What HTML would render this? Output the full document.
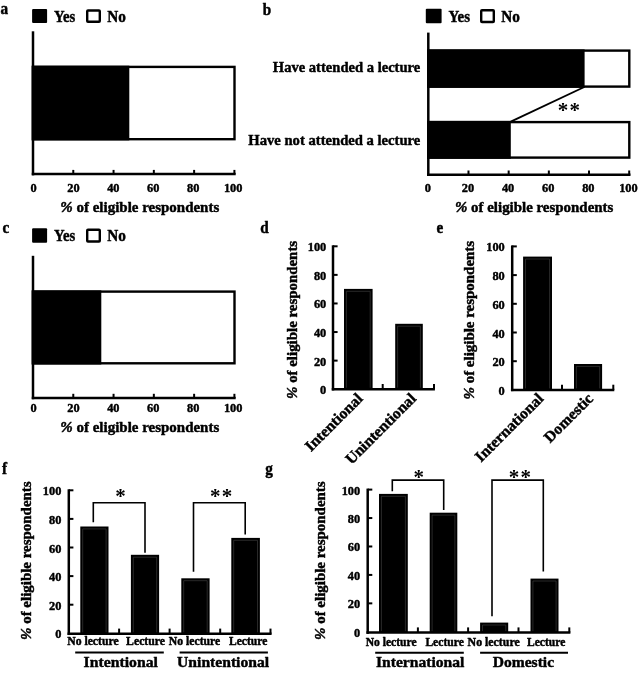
<!DOCTYPE html>
<html><head><meta charset="utf-8"><title>Figure</title>
<style>
html,body{margin:0;padding:0;background:#fff;}
svg{display:block;filter:blur(0.3px);}
text{font-family:"Liberation Serif",serif;font-weight:bold;fill:#000;stroke:#000;stroke-width:0.45px;stroke-linejoin:round;}
text.st{stroke:none;}
</style></head><body>
<svg width="638" height="673" viewBox="0 0 638 673">
<rect x="0" y="0" width="638" height="673" fill="#fff"/>
<text x="0.5" y="14.3" font-size="16" text-anchor="start" textLength="7.6" lengthAdjust="spacingAndGlyphs">a</text>
<rect x="32.1" y="9" width="15" height="14.1" rx="1" fill="#000"/>
<text x="53.9" y="21.6" font-size="16.5" textLength="21.29" lengthAdjust="spacingAndGlyphs">Yes</text>
<rect x="87.2" y="10.5" width="12.6" height="11.3" rx="0.8" fill="#fff" stroke="#000" stroke-width="2.4"/>
<text x="107.3" y="21.6" font-size="16.5" textLength="18.63" lengthAdjust="spacingAndGlyphs">No</text>
<line x1="33" y1="31.3" x2="33" y2="175.35" stroke="#000" stroke-width="2.5" stroke-linecap="butt"/>
<line x1="31.75" y1="174.1" x2="235.7" y2="174.1" stroke="#000" stroke-width="2.5" stroke-linecap="butt"/>
<text x="33.5" y="191.8" font-size="13.5" text-anchor="middle" textLength="6.18" lengthAdjust="spacingAndGlyphs">0</text>
<line x1="73.28" y1="174.1" x2="73.28" y2="169.9" stroke="#000" stroke-width="2" stroke-linecap="butt"/>
<text x="73.43" y="191.8" font-size="13.5" text-anchor="middle" textLength="12.35" lengthAdjust="spacingAndGlyphs">20</text>
<line x1="113.56" y1="174.1" x2="113.56" y2="169.9" stroke="#000" stroke-width="2" stroke-linecap="butt"/>
<text x="113.36" y="191.8" font-size="13.5" text-anchor="middle" textLength="12.35" lengthAdjust="spacingAndGlyphs">40</text>
<line x1="153.84" y1="174.1" x2="153.84" y2="169.9" stroke="#000" stroke-width="2" stroke-linecap="butt"/>
<text x="153.29" y="191.8" font-size="13.5" text-anchor="middle" textLength="12.35" lengthAdjust="spacingAndGlyphs">60</text>
<line x1="194.12" y1="174.1" x2="194.12" y2="169.9" stroke="#000" stroke-width="2" stroke-linecap="butt"/>
<text x="193.22" y="191.8" font-size="13.5" text-anchor="middle" textLength="12.35" lengthAdjust="spacingAndGlyphs">80</text>
<line x1="234.4" y1="174.1" x2="234.4" y2="169.9" stroke="#000" stroke-width="2" stroke-linecap="butt"/>
<text x="233.15" y="191.8" font-size="13.5" text-anchor="middle" textLength="18.53" lengthAdjust="spacingAndGlyphs">100</text>
<text x="60.3" y="212" font-size="15.5" textLength="158.96" lengthAdjust="spacingAndGlyphs"><tspan font-style="italic">%</tspan> of eligible respondents</text>
<rect x="32.95" y="66.9" width="201.55" height="72.3" fill="#fff" stroke="#000" stroke-width="2.4"/>
<rect x="31.75" y="65.7" width="97.55" height="74.7" fill="#000"/>
<text x="262.8" y="14.5" font-size="16" text-anchor="start" textLength="8.45" lengthAdjust="spacingAndGlyphs">b</text>
<rect x="425.8" y="8.8" width="15.8" height="14.5" rx="1" fill="#000"/>
<text x="448.4" y="21.8" font-size="16.5" textLength="21.59" lengthAdjust="spacingAndGlyphs">Yes</text>
<rect x="481.2" y="10.3" width="12.6" height="11.7" rx="0.8" fill="#fff" stroke="#000" stroke-width="2.4"/>
<text x="501.3" y="21.8" font-size="16.5" textLength="18.63" lengthAdjust="spacingAndGlyphs">No</text>
<line x1="428.3" y1="32.6" x2="428.3" y2="175.95" stroke="#000" stroke-width="2.5" stroke-linecap="butt"/>
<line x1="427.05" y1="174.7" x2="630.5" y2="174.7" stroke="#000" stroke-width="2.5" stroke-linecap="butt"/>
<text x="427.9" y="191.9" font-size="13.5" text-anchor="middle" textLength="6.18" lengthAdjust="spacingAndGlyphs">0</text>
<line x1="468.48" y1="174.7" x2="468.48" y2="170.5" stroke="#000" stroke-width="2" stroke-linecap="butt"/>
<text x="468" y="191.9" font-size="13.5" text-anchor="middle" textLength="12.35" lengthAdjust="spacingAndGlyphs">20</text>
<line x1="508.66" y1="174.7" x2="508.66" y2="170.5" stroke="#000" stroke-width="2" stroke-linecap="butt"/>
<text x="508.1" y="191.9" font-size="13.5" text-anchor="middle" textLength="12.35" lengthAdjust="spacingAndGlyphs">40</text>
<line x1="548.84" y1="174.7" x2="548.84" y2="170.5" stroke="#000" stroke-width="2" stroke-linecap="butt"/>
<text x="548.2" y="191.9" font-size="13.5" text-anchor="middle" textLength="12.35" lengthAdjust="spacingAndGlyphs">60</text>
<line x1="589.02" y1="174.7" x2="589.02" y2="170.5" stroke="#000" stroke-width="2" stroke-linecap="butt"/>
<text x="588.3" y="191.9" font-size="13.5" text-anchor="middle" textLength="12.35" lengthAdjust="spacingAndGlyphs">80</text>
<line x1="629.2" y1="174.7" x2="629.2" y2="170.5" stroke="#000" stroke-width="2" stroke-linecap="butt"/>
<text x="628.4" y="191.9" font-size="13.5" text-anchor="middle" textLength="18.53" lengthAdjust="spacingAndGlyphs">100</text>
<text x="454.9" y="212.3" font-size="15.5" textLength="158.46" lengthAdjust="spacingAndGlyphs"><tspan font-style="italic">%</tspan> of eligible respondents</text>
<rect x="428.25" y="50.6" width="201.05" height="36" fill="#fff" stroke="#000" stroke-width="2.4"/>
<rect x="427.05" y="49.4" width="157.55" height="38.4" fill="#000"/>
<rect x="428.25" y="122.1" width="201.05" height="35.5" fill="#fff" stroke="#000" stroke-width="2.4"/>
<rect x="427.05" y="120.9" width="83.75" height="37.9" fill="#000"/>
<line x1="584.3" y1="87" x2="510.8" y2="121.6" stroke="#000" stroke-width="1.9" stroke-linecap="butt"/>
<text x="557.7" y="117.3" font-size="21" text-anchor="start" letter-spacing="1.2" class="st">**</text>
<text x="272.8" y="72.2" font-size="15.5" textLength="147.47" lengthAdjust="spacingAndGlyphs">Have attended a lecture</text>
<text x="248.3" y="144.7" font-size="15.5" textLength="172.04" lengthAdjust="spacingAndGlyphs">Have not attended a lecture</text>
<text x="2.5" y="233" font-size="16" text-anchor="start" textLength="6.75" lengthAdjust="spacingAndGlyphs">c</text>
<rect x="32.1" y="228.3" width="15" height="14.5" rx="1" fill="#000"/>
<text x="53.9" y="241" font-size="16.5" textLength="21.29" lengthAdjust="spacingAndGlyphs">Yes</text>
<rect x="87.2" y="229.8" width="12.6" height="11.7" rx="0.8" fill="#fff" stroke="#000" stroke-width="2.4"/>
<text x="107.3" y="241" font-size="16.5" textLength="18.63" lengthAdjust="spacingAndGlyphs">No</text>
<line x1="33" y1="255.8" x2="33" y2="399.25" stroke="#000" stroke-width="2.5" stroke-linecap="butt"/>
<line x1="31.75" y1="398" x2="235.7" y2="398" stroke="#000" stroke-width="2.5" stroke-linecap="butt"/>
<text x="33.5" y="412.4" font-size="13.5" text-anchor="middle" textLength="6.18" lengthAdjust="spacingAndGlyphs">0</text>
<line x1="73.28" y1="398" x2="73.28" y2="393.8" stroke="#000" stroke-width="2" stroke-linecap="butt"/>
<text x="73.43" y="412.4" font-size="13.5" text-anchor="middle" textLength="12.35" lengthAdjust="spacingAndGlyphs">20</text>
<line x1="113.56" y1="398" x2="113.56" y2="393.8" stroke="#000" stroke-width="2" stroke-linecap="butt"/>
<text x="113.36" y="412.4" font-size="13.5" text-anchor="middle" textLength="12.35" lengthAdjust="spacingAndGlyphs">40</text>
<line x1="153.84" y1="398" x2="153.84" y2="393.8" stroke="#000" stroke-width="2" stroke-linecap="butt"/>
<text x="153.29" y="412.4" font-size="13.5" text-anchor="middle" textLength="12.35" lengthAdjust="spacingAndGlyphs">60</text>
<line x1="194.12" y1="398" x2="194.12" y2="393.8" stroke="#000" stroke-width="2" stroke-linecap="butt"/>
<text x="193.22" y="412.4" font-size="13.5" text-anchor="middle" textLength="12.35" lengthAdjust="spacingAndGlyphs">80</text>
<line x1="234.4" y1="398" x2="234.4" y2="393.8" stroke="#000" stroke-width="2" stroke-linecap="butt"/>
<text x="233.15" y="412.4" font-size="13.5" text-anchor="middle" textLength="18.53" lengthAdjust="spacingAndGlyphs">100</text>
<text x="60.3" y="432.3" font-size="15.5" textLength="158.96" lengthAdjust="spacingAndGlyphs"><tspan font-style="italic">%</tspan> of eligible respondents</text>
<rect x="32.95" y="291.6" width="201.55" height="71.7" fill="#fff" stroke="#000" stroke-width="2.4"/>
<rect x="31.75" y="290.4" width="69.55" height="74.1" fill="#000"/>
<text x="260.3" y="232.8" font-size="16" text-anchor="start" textLength="8.45" lengthAdjust="spacingAndGlyphs">d</text>
<line x1="333" y1="245.3" x2="333" y2="390.45" stroke="#000" stroke-width="2.5" stroke-linecap="butt"/>
<line x1="331.75" y1="389.2" x2="434.9" y2="389.2" stroke="#000" stroke-width="2.5" stroke-linecap="butt"/>
<text x="326.3" y="394.2" font-size="13.5" text-anchor="end" textLength="6.18" lengthAdjust="spacingAndGlyphs">0</text>
<line x1="333" y1="360.62" x2="337.6" y2="360.62" stroke="#000" stroke-width="2" stroke-linecap="butt"/>
<text x="326.3" y="365.62" font-size="13.5" text-anchor="end" textLength="12.35" lengthAdjust="spacingAndGlyphs">20</text>
<line x1="333" y1="332.04" x2="337.6" y2="332.04" stroke="#000" stroke-width="2" stroke-linecap="butt"/>
<text x="326.3" y="337.04" font-size="13.5" text-anchor="end" textLength="12.35" lengthAdjust="spacingAndGlyphs">40</text>
<line x1="333" y1="303.46" x2="337.6" y2="303.46" stroke="#000" stroke-width="2" stroke-linecap="butt"/>
<text x="326.3" y="308.46" font-size="13.5" text-anchor="end" textLength="12.35" lengthAdjust="spacingAndGlyphs">60</text>
<line x1="333" y1="274.88" x2="337.6" y2="274.88" stroke="#000" stroke-width="2" stroke-linecap="butt"/>
<text x="326.3" y="279.88" font-size="13.5" text-anchor="end" textLength="12.35" lengthAdjust="spacingAndGlyphs">80</text>
<line x1="333" y1="246.3" x2="337.6" y2="246.3" stroke="#000" stroke-width="2" stroke-linecap="butt"/>
<text x="326.3" y="251.3" font-size="13.5" text-anchor="end" textLength="18.53" lengthAdjust="spacingAndGlyphs">100</text>
<line x1="382.7" y1="389.2" x2="382.7" y2="384" stroke="#000" stroke-width="2" stroke-linecap="butt"/>
<line x1="434" y1="389.2" x2="434" y2="384" stroke="#000" stroke-width="2" stroke-linecap="butt"/>
<rect x="344" y="288.9" width="28.6" height="100.3" fill="#000"/>
<polyline points="346.4,387.7 346.4,291.3 370.2,291.3 370.2,387.7" fill="none" stroke="#444" stroke-width="0.6"/>
<rect x="395.2" y="323.8" width="27.6" height="65.4" fill="#000"/>
<polyline points="397.6,387.7 397.6,326.2 420.4,326.2 420.4,387.7" fill="none" stroke="#444" stroke-width="0.6"/>
<text transform="translate(297.4,399) rotate(-90)" font-size="14.6" textLength="158.16" lengthAdjust="spacingAndGlyphs"><tspan font-style="italic">%</tspan> of eligible respondents</text>
<text transform="translate(363.6,399.5) rotate(-45)" font-size="15.5" text-anchor="end" textLength="74.5" lengthAdjust="spacingAndGlyphs">Intentional</text>
<text transform="translate(417,399.5) rotate(-45)" font-size="15.5" text-anchor="end" textLength="92.8" lengthAdjust="spacingAndGlyphs">Unintentional</text>
<text x="436.6" y="232.8" font-size="16" text-anchor="start" textLength="6.75" lengthAdjust="spacingAndGlyphs">e</text>
<line x1="512.2" y1="245.4" x2="512.2" y2="391.15" stroke="#000" stroke-width="2.5" stroke-linecap="butt"/>
<line x1="510.95" y1="389.9" x2="614.3" y2="389.9" stroke="#000" stroke-width="2.5" stroke-linecap="butt"/>
<text x="504.8" y="394.9" font-size="13.5" text-anchor="end" textLength="6.18" lengthAdjust="spacingAndGlyphs">0</text>
<line x1="512.2" y1="361.2" x2="516.8" y2="361.2" stroke="#000" stroke-width="2" stroke-linecap="butt"/>
<text x="504.8" y="366.2" font-size="13.5" text-anchor="end" textLength="12.35" lengthAdjust="spacingAndGlyphs">20</text>
<line x1="512.2" y1="332.5" x2="516.8" y2="332.5" stroke="#000" stroke-width="2" stroke-linecap="butt"/>
<text x="504.8" y="337.5" font-size="13.5" text-anchor="end" textLength="12.35" lengthAdjust="spacingAndGlyphs">40</text>
<line x1="512.2" y1="303.8" x2="516.8" y2="303.8" stroke="#000" stroke-width="2" stroke-linecap="butt"/>
<text x="504.8" y="308.8" font-size="13.5" text-anchor="end" textLength="12.35" lengthAdjust="spacingAndGlyphs">60</text>
<line x1="512.2" y1="275.1" x2="516.8" y2="275.1" stroke="#000" stroke-width="2" stroke-linecap="butt"/>
<text x="504.8" y="280.1" font-size="13.5" text-anchor="end" textLength="12.35" lengthAdjust="spacingAndGlyphs">80</text>
<line x1="512.2" y1="246.4" x2="516.8" y2="246.4" stroke="#000" stroke-width="2" stroke-linecap="butt"/>
<text x="504.8" y="251.4" font-size="13.5" text-anchor="end" textLength="18.53" lengthAdjust="spacingAndGlyphs">100</text>
<line x1="562" y1="389.9" x2="562" y2="384.7" stroke="#000" stroke-width="2" stroke-linecap="butt"/>
<line x1="613.3" y1="389.9" x2="613.3" y2="384.7" stroke="#000" stroke-width="2" stroke-linecap="butt"/>
<rect x="523.1" y="256.6" width="28.9" height="133.3" fill="#000"/>
<polyline points="525.5,388.4 525.5,259 549.6,259 549.6,388.4" fill="none" stroke="#444" stroke-width="0.6"/>
<rect x="574" y="364" width="28.1" height="25.9" fill="#000"/>
<polyline points="576.4,388.4 576.4,366.4 599.7,366.4 599.7,388.4" fill="none" stroke="#444" stroke-width="0.6"/>
<text transform="translate(473.5,399.5) rotate(-90)" font-size="14.6" textLength="158.66" lengthAdjust="spacingAndGlyphs"><tspan font-style="italic">%</tspan> of eligible respondents</text>
<text transform="translate(544.3,399.5) rotate(-45)" font-size="15.5" text-anchor="end" textLength="89.4" lengthAdjust="spacingAndGlyphs">International</text>
<text transform="translate(594,399.5) rotate(-45)" font-size="15.5" text-anchor="end" textLength="62.2" lengthAdjust="spacingAndGlyphs">Domestic</text>
<text x="2" y="473.5" font-size="16" text-anchor="start" textLength="5.06" lengthAdjust="spacingAndGlyphs">f</text>
<line x1="68.8" y1="489.3" x2="68.8" y2="635.05" stroke="#000" stroke-width="2.5" stroke-linecap="butt"/>
<line x1="67.55" y1="633.8" x2="271.6" y2="633.8" stroke="#000" stroke-width="2.5" stroke-linecap="butt"/>
<text x="61.4" y="638.3" font-size="13.5" text-anchor="end" textLength="6.18" lengthAdjust="spacingAndGlyphs">0</text>
<line x1="68.8" y1="604.7" x2="73.4" y2="604.7" stroke="#000" stroke-width="2" stroke-linecap="butt"/>
<text x="61.4" y="609.7" font-size="13.5" text-anchor="end" textLength="12.35" lengthAdjust="spacingAndGlyphs">20</text>
<line x1="68.8" y1="576.1" x2="73.4" y2="576.1" stroke="#000" stroke-width="2" stroke-linecap="butt"/>
<text x="61.4" y="581.1" font-size="13.5" text-anchor="end" textLength="12.35" lengthAdjust="spacingAndGlyphs">40</text>
<line x1="68.8" y1="547.5" x2="73.4" y2="547.5" stroke="#000" stroke-width="2" stroke-linecap="butt"/>
<text x="61.4" y="552.5" font-size="13.5" text-anchor="end" textLength="12.35" lengthAdjust="spacingAndGlyphs">60</text>
<line x1="68.8" y1="518.9" x2="73.4" y2="518.9" stroke="#000" stroke-width="2" stroke-linecap="butt"/>
<text x="61.4" y="523.9" font-size="13.5" text-anchor="end" textLength="12.35" lengthAdjust="spacingAndGlyphs">80</text>
<line x1="68.8" y1="490.3" x2="73.4" y2="490.3" stroke="#000" stroke-width="2" stroke-linecap="butt"/>
<text x="61.4" y="495.3" font-size="13.5" text-anchor="end" textLength="18.53" lengthAdjust="spacingAndGlyphs">100</text>
<line x1="119.1" y1="633.8" x2="119.1" y2="628.6" stroke="#000" stroke-width="2" stroke-linecap="butt"/>
<line x1="169.6" y1="633.8" x2="169.6" y2="628.6" stroke="#000" stroke-width="2" stroke-linecap="butt"/>
<line x1="220.2" y1="633.8" x2="220.2" y2="628.6" stroke="#000" stroke-width="2" stroke-linecap="butt"/>
<line x1="270.5" y1="633.8" x2="270.5" y2="628.6" stroke="#000" stroke-width="2" stroke-linecap="butt"/>
<rect x="80.3" y="526.5" width="28.2" height="107.3" fill="#000"/>
<polyline points="82.7,632.3 82.7,528.9 106.1,528.9 106.1,632.3" fill="none" stroke="#444" stroke-width="0.6"/>
<rect x="130.9" y="554.8" width="28.2" height="79" fill="#000"/>
<polyline points="133.3,632.3 133.3,557.2 156.7,557.2 156.7,632.3" fill="none" stroke="#444" stroke-width="0.6"/>
<rect x="181.3" y="578.3" width="28.3" height="55.5" fill="#000"/>
<polyline points="183.7,632.3 183.7,580.7 207.2,580.7 207.2,632.3" fill="none" stroke="#444" stroke-width="0.6"/>
<rect x="231.3" y="537.9" width="28.6" height="95.9" fill="#000"/>
<polyline points="233.7,632.3 233.7,540.3 257.5,540.3 257.5,632.3" fill="none" stroke="#444" stroke-width="0.6"/>
<text transform="translate(30.6,640) rotate(-90)" font-size="14.6" textLength="158.66" lengthAdjust="spacingAndGlyphs"><tspan font-style="italic">%</tspan> of eligible respondents</text>
<polyline points="93.3,522.2 93.3,502.8 145,502.8 145,552.8" fill="none" stroke="#000" stroke-width="1.6"/>
<text x="115.2" y="503.2" font-size="21" text-anchor="start" class="st">*</text>
<polyline points="193.5,571.8 193.5,502.8 245.2,502.8 245.2,534.5" fill="none" stroke="#000" stroke-width="1.6"/>
<text x="210" y="503.2" font-size="21" text-anchor="start" letter-spacing="1.2" class="st">**</text>
<text x="67.2" y="645.3" font-size="12.3" textLength="51.42" lengthAdjust="spacingAndGlyphs">No lecture</text>
<text x="126.1" y="645.3" font-size="12.3" textLength="38.88" lengthAdjust="spacingAndGlyphs">Lecture</text>
<text x="168.8" y="645.3" font-size="12.3" textLength="51.42" lengthAdjust="spacingAndGlyphs">No lecture</text>
<text x="229" y="645.3" font-size="12.3" textLength="38.38" lengthAdjust="spacingAndGlyphs">Lecture</text>
<line x1="75.2" y1="652.5" x2="163.8" y2="652.5" stroke="#000" stroke-width="2.0" stroke-linecap="butt"/>
<line x1="179.6" y1="652.5" x2="267.9" y2="652.5" stroke="#000" stroke-width="2.0" stroke-linecap="butt"/>
<text x="83.6" y="667" font-size="15.5" textLength="74.37" lengthAdjust="spacingAndGlyphs">Intentional</text>
<text x="177.1" y="667" font-size="15.5" textLength="92" lengthAdjust="spacingAndGlyphs">Unintentional</text>
<text x="265.3" y="474" font-size="16" text-anchor="start" textLength="7.6" lengthAdjust="spacingAndGlyphs">g</text>
<line x1="367.7" y1="488.6" x2="367.7" y2="633.85" stroke="#000" stroke-width="2.5" stroke-linecap="butt"/>
<line x1="366.45" y1="632.6" x2="570.4" y2="632.6" stroke="#000" stroke-width="2.5" stroke-linecap="butt"/>
<text x="360.2" y="636.8" font-size="13.5" text-anchor="end" textLength="6.18" lengthAdjust="spacingAndGlyphs">0</text>
<line x1="367.7" y1="603.36" x2="372.3" y2="603.36" stroke="#000" stroke-width="2" stroke-linecap="butt"/>
<text x="360.2" y="608.36" font-size="13.5" text-anchor="end" textLength="12.35" lengthAdjust="spacingAndGlyphs">20</text>
<line x1="367.7" y1="574.92" x2="372.3" y2="574.92" stroke="#000" stroke-width="2" stroke-linecap="butt"/>
<text x="360.2" y="579.92" font-size="13.5" text-anchor="end" textLength="12.35" lengthAdjust="spacingAndGlyphs">40</text>
<line x1="367.7" y1="546.48" x2="372.3" y2="546.48" stroke="#000" stroke-width="2" stroke-linecap="butt"/>
<text x="360.2" y="551.48" font-size="13.5" text-anchor="end" textLength="12.35" lengthAdjust="spacingAndGlyphs">60</text>
<line x1="367.7" y1="518.04" x2="372.3" y2="518.04" stroke="#000" stroke-width="2" stroke-linecap="butt"/>
<text x="360.2" y="523.04" font-size="13.5" text-anchor="end" textLength="12.35" lengthAdjust="spacingAndGlyphs">80</text>
<line x1="367.7" y1="489.6" x2="372.3" y2="489.6" stroke="#000" stroke-width="2" stroke-linecap="butt"/>
<text x="360.2" y="494.6" font-size="13.5" text-anchor="end" textLength="18.53" lengthAdjust="spacingAndGlyphs">100</text>
<line x1="417.9" y1="632.6" x2="417.9" y2="627.4" stroke="#000" stroke-width="2" stroke-linecap="butt"/>
<line x1="468.1" y1="632.6" x2="468.1" y2="627.4" stroke="#000" stroke-width="2" stroke-linecap="butt"/>
<line x1="518.5" y1="632.6" x2="518.5" y2="627.4" stroke="#000" stroke-width="2" stroke-linecap="butt"/>
<line x1="569.3" y1="632.6" x2="569.3" y2="627.4" stroke="#000" stroke-width="2" stroke-linecap="butt"/>
<rect x="379" y="493.9" width="28.8" height="138.7" fill="#000"/>
<polyline points="381.4,631.1 381.4,496.3 405.4,496.3 405.4,631.1" fill="none" stroke="#444" stroke-width="0.6"/>
<rect x="429.7" y="512.7" width="27.6" height="119.9" fill="#000"/>
<polyline points="432.1,631.1 432.1,515.1 454.9,515.1 454.9,631.1" fill="none" stroke="#444" stroke-width="0.6"/>
<rect x="480.1" y="622.6" width="28.1" height="10" fill="#000"/>
<polyline points="482.5,631.1 482.5,625 505.8,625 505.8,631.1" fill="none" stroke="#444" stroke-width="0.6"/>
<rect x="530.5" y="578.6" width="28" height="54" fill="#000"/>
<polyline points="532.9,631.1 532.9,581 556.1,581 556.1,631.1" fill="none" stroke="#444" stroke-width="0.6"/>
<text transform="translate(324.7,640) rotate(-90)" font-size="14.6" textLength="158.66" lengthAdjust="spacingAndGlyphs"><tspan font-style="italic">%</tspan> of eligible respondents</text>
<polyline points="392.3,491.3 392.3,480.1 443.7,480.1 443.7,509.9" fill="none" stroke="#000" stroke-width="1.6"/>
<text x="413.5" y="483.7" font-size="21" text-anchor="start" class="st">*</text>
<polyline points="492,616.3 492,480.1 543.3,480.1 543.3,571.6" fill="none" stroke="#000" stroke-width="1.6"/>
<text x="508.8" y="483.7" font-size="21" text-anchor="start" letter-spacing="1.2" class="st">**</text>
<text x="365.7" y="645.7" font-size="12.3" textLength="50.92" lengthAdjust="spacingAndGlyphs">No lecture</text>
<text x="425.4" y="645.7" font-size="12.3" textLength="38.38" lengthAdjust="spacingAndGlyphs">Lecture</text>
<text x="467.6" y="645.7" font-size="12.3" textLength="52.12" lengthAdjust="spacingAndGlyphs">No lecture</text>
<text x="527" y="645.7" font-size="12.3" textLength="38.38" lengthAdjust="spacingAndGlyphs">Lecture</text>
<line x1="375.2" y1="652.7" x2="463.8" y2="652.7" stroke="#000" stroke-width="2.0" stroke-linecap="butt"/>
<line x1="480.1" y1="652.7" x2="568" y2="652.7" stroke="#000" stroke-width="2.0" stroke-linecap="butt"/>
<text x="376" y="667" font-size="15.5" textLength="88.33" lengthAdjust="spacingAndGlyphs">International</text>
<text x="492.7" y="667" font-size="15.5" textLength="61.37" lengthAdjust="spacingAndGlyphs">Domestic</text>
</svg>
</body></html>
